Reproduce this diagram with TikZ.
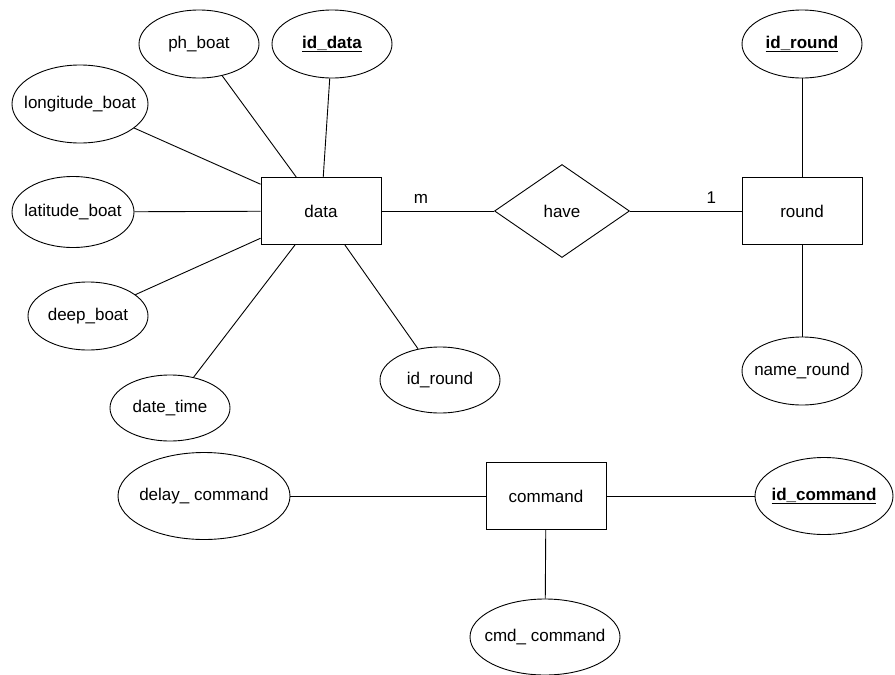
\documentclass[tikz,border=0pt]{standalone}
\usepackage{fontspec}
\setmainfont{Liberation Sans}
\usetikzlibrary{shapes.geometric,positioning}

\tikzset{
  entity/.style={draw, line width=0.9pt, minimum width=120pt, minimum height=67pt, inner sep=0pt},
  attr/.style={ellipse, draw, line width=0.9pt, inner xsep=-14pt, inner ysep=0pt, minimum width=120pt, minimum height=68pt},
  rel/.style={diamond, draw, line width=0.9pt, inner sep=0pt, minimum width=135pt, minimum height=93pt},
  link/.style={line width=0.9pt},
  card/.style={inner sep=7pt}
}

\begin{document}
\begin{tikzpicture}[x=1pt, y=-1pt, font=\fontsize{17}{20}\selectfont]
\useasboundingbox (0,0) rectangle (895,675);

% entities and relationship
\node[entity] (data) at (321,211) {data};
\node[rel] (have) at (562,211) {have};
\node[entity] (round) at (802,211) {round};
\node[entity] (command) at (546,496) {command};

% attributes of data
\node[attr] (phboat) at (199,44) {ph\_boat};
\node[attr] (iddata) at (332,44) {\textbf{\underline{id\_data}}};
\node[attr, minimum width=136pt, minimum height=78pt] (longboat) at (80,104) {longitude\_boat};
\node[attr, minimum width=122pt, minimum height=71pt] (latboat) at (73,212) {latitude\_boat};
\node[attr] (deepboat) at (88,316) {deep\_boat};
\node[attr, minimum height=66pt] (datetime) at (170,408) {date\_time};
\node[attr, minimum height=66pt] (dataround) at (440,380) {id\_round};

% attributes of round
\node[attr] (idround) at (802,44) {\textbf{\underline{id\_round}}};
\node[attr] (nameround) at (802,371) {name\_round};

% attributes of command
\node[attr, minimum width=172pt, minimum height=87pt] (delaycmd) at (204,496) {delay\_ command};
\node[attr, minimum width=138pt, minimum height=77pt] (idcmd) at (824,496) {\textbf{\underline{id\_command}}};
\node[attr, minimum width=150pt, minimum height=76pt] (cmdcmd) at (545,637) {cmd\_ command};

% connectors
\foreach \a in {phboat,iddata,longboat,latboat,deepboat,datetime,dataround}
  \draw[link] (data) -- (\a);
\draw[link] (data) -- node[card, pos=0.35, above] {m} (have);
\draw[link] (have) -- node[card, pos=0.73, above] {1} (round);
\draw[link] (round) -- (idround);
\draw[link] (round) -- (nameround);
\draw[link] (command) -- (delaycmd);
\draw[link] (command) -- (idcmd);
\draw[link] (command) -- (cmdcmd);
\end{tikzpicture}
\end{document}
